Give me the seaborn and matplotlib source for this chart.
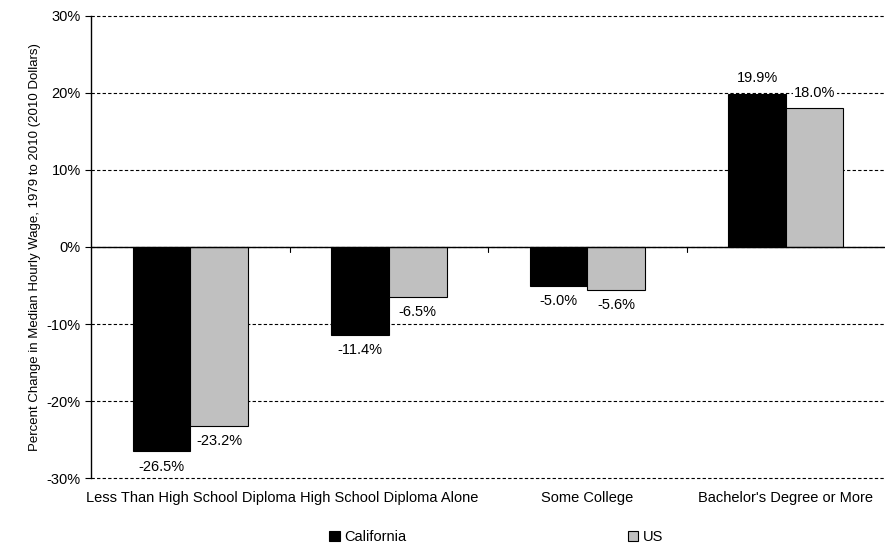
import numpy as np
import pandas as pd
import matplotlib.pyplot as plt
import seaborn as sns
from matplotlib.ticker import FuncFormatter

categories = ['Less Than High School Diploma', 'High School Diploma Alone',
              'Some College', "Bachelor's Degree or More"]
california = [-26.5, -11.4, -5.0, 19.9]
us = [-23.2, -6.5, -5.6, 18.0]
regions = ['California', 'US']
colors = ['#000000', '#c0c0c0']

df = pd.DataFrame({
    'Category': categories * 2,
    'Change': california + us,
    'Region': ['California'] * 4 + ['US'] * 4,
})

sns.set_style('white')
plt.rcParams['font.family'] = ['Liberation Sans', 'DejaVu Sans']
plt.rcParams['text.color'] = 'black'
plt.rcParams['axes.labelcolor'] = 'black'
plt.rcParams['xtick.color'] = 'black'
plt.rcParams['ytick.color'] = 'black'

fig, ax = plt.subplots(figsize=(8.86, 5.44), dpi=100)
fig.subplots_adjust(left=0.103, right=0.999, top=0.971, bottom=0.121)

sns.barplot(data=df, x='Category', y='Change', hue='Region', palette=colors,
            width=0.58, edgecolor='black', linewidth=0.8, ax=ax)

# value labels (white box breaks the gridline like the original)
for cont in ax.containers:
    vals = [b.get_height() for b in cont]
    ax.bar_label(cont, labels=[f'{v:.1f}%' for v in vals], padding=6, fontsize=10.5,
                 bbox=dict(facecolor='white', edgecolor='none', pad=1))

ax.set_ylim(-30, 30)
ax.set_xlim(-0.5, 3.5)
ax.set_yticks(np.arange(-30, 31, 10))
ax.yaxis.set_major_formatter(FuncFormatter(lambda v, p: f'{v:.0f}%'))
ax.yaxis.grid(True, linestyle=(0, (3, 2)), color='black', linewidth=0.8)
for gl in ax.get_ygridlines():
    gl.set_clip_on(False)
ax.set_axisbelow(True)
ax.axhline(0, color='black', linewidth=1)

# category boundary ticks on the zero line
for x in [0.5, 1.5, 2.5]:
    ax.plot([x, x], [0, -0.6], color='black', linewidth=0.8)

for s in ['top', 'right', 'bottom']:
    ax.spines[s].set_visible(False)
ax.spines['left'].set_color('black')
ax.spines['left'].set_linewidth(1)

ax.tick_params(axis='y', left=True, length=4, width=0.8, direction='out', labelsize=10.5)
ax.tick_params(axis='x', bottom=False, length=0, pad=9, labelsize=10.5)
ax.set_xlabel('')
ax.set_ylabel('Percent Change in Median Hourly Wage, 1979 to 2010 (2010 Dollars)', fontsize=9.5)

handles, labels = ax.get_legend_handles_labels()
ax.legend(handles, labels, loc='center', bbox_to_anchor=(0.51, -0.128), ncol=2,
          frameon=False, fontsize=10.5, handlelength=0.7, handleheight=0.7,
          handletextpad=0.3, columnspacing=15.2, borderpad=0)

plt.savefig('out.png', dpi=100)
